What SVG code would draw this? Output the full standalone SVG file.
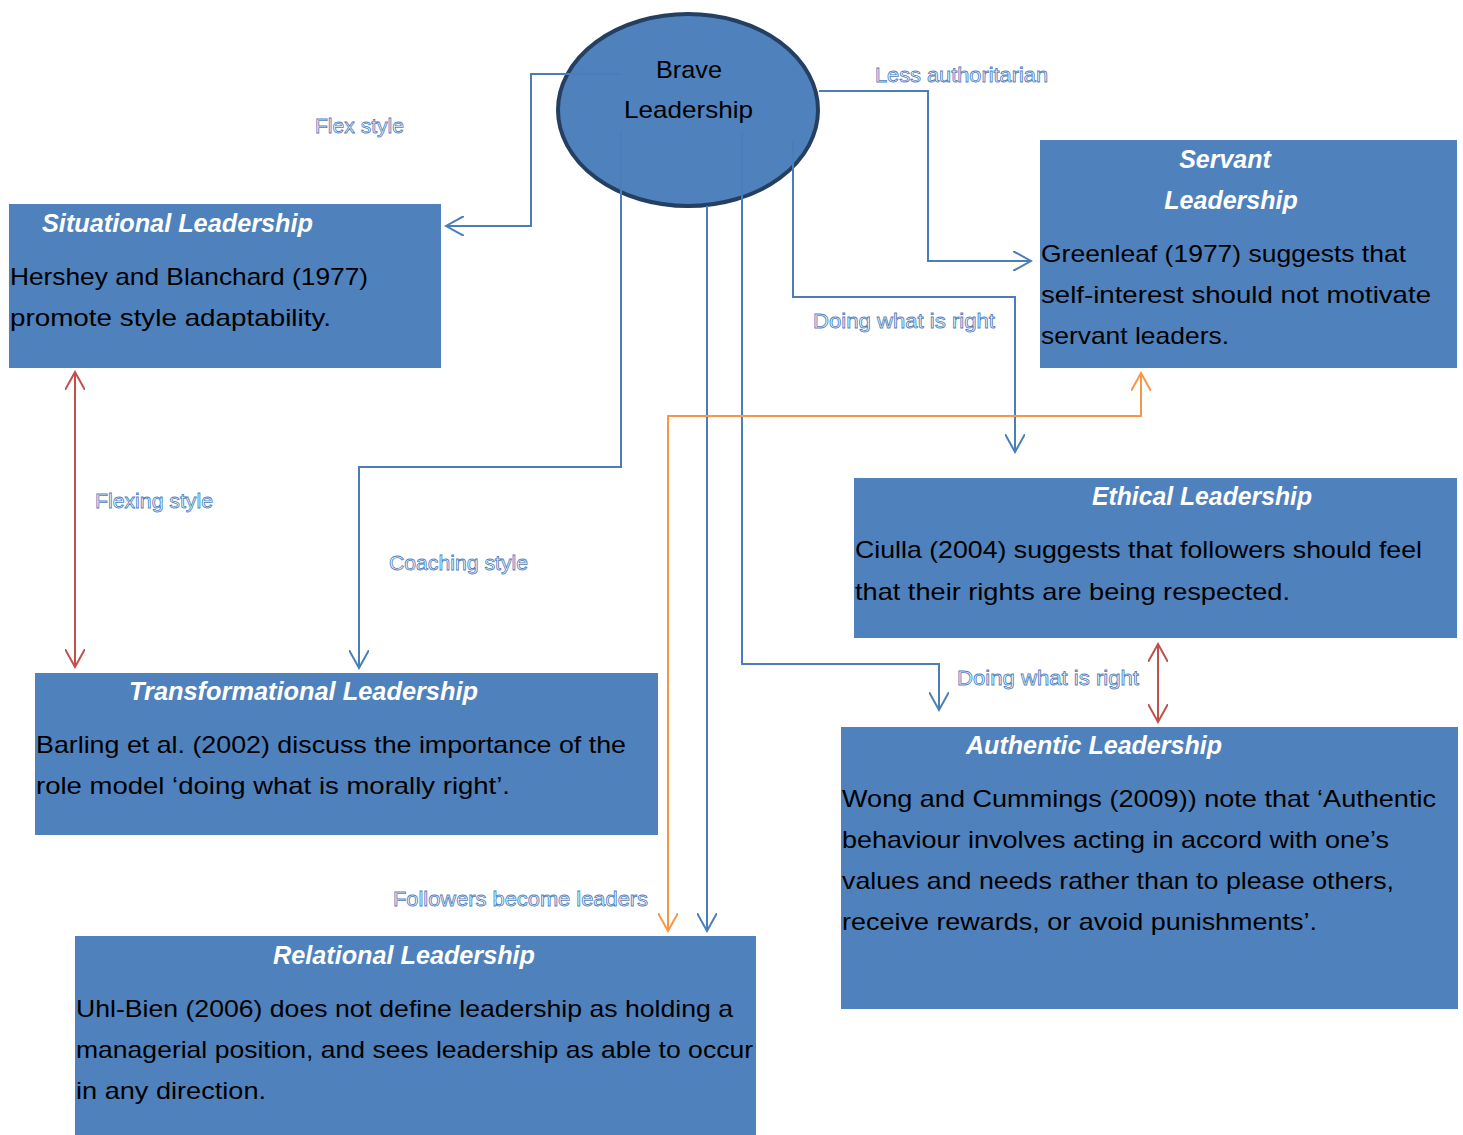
<svg xmlns="http://www.w3.org/2000/svg" width="1463" height="1135" viewBox="0 0 1463 1135">
<style>
.box{fill:#4f81bd}
.title{font-family:"Liberation Sans",Arial,sans-serif;font-size:25px;font-weight:bold;font-style:italic;fill:#fff}
.body{font-family:"Liberation Sans",Arial,sans-serif;font-size:24px;fill:#000}
.lbl{font-family:"Liberation Sans",Arial,sans-serif;font-size:20px;fill:#fff;stroke:#4f81bd;stroke-width:0.8}
.c{fill:none;stroke-width:2}
.blue{stroke:#4a7ebb}
.orange{stroke:#f79646}
.red{stroke:#c0504d}
</style>
<defs>
<marker id="ab" viewBox="0 0 20 20" refX="18" refY="10" markerWidth="20" markerHeight="20" markerUnits="userSpaceOnUse" orient="auto-start-reverse"><path d="M0,0 L18,10 L0,20" fill="none" stroke="#4a7ebb" stroke-width="2"/></marker>
<marker id="ao" viewBox="0 0 20 20" refX="18" refY="10" markerWidth="20" markerHeight="20" markerUnits="userSpaceOnUse" orient="auto-start-reverse"><path d="M0,0 L18,10 L0,20" fill="none" stroke="#f79646" stroke-width="2"/></marker>
<marker id="ar" viewBox="0 0 20 20" refX="18" refY="10" markerWidth="20" markerHeight="20" markerUnits="userSpaceOnUse" orient="auto-start-reverse"><path d="M0,0 L18,10 L0,20" fill="none" stroke="#c0504d" stroke-width="2"/></marker>
</defs>
<rect width="1463" height="1135" fill="#fff"/>
<g id="brave">
<ellipse cx="688" cy="110" rx="130" ry="96" fill="#4f81bd" stroke="#243f60" stroke-width="4"/>
<text class="body" x="656" y="78" font-size="25" textLength="66" lengthAdjust="spacingAndGlyphs">Brave</text>
<text class="body" x="624" y="118" font-size="25" textLength="129" lengthAdjust="spacingAndGlyphs">Leadership</text>
</g>
<g id="situational">
<rect class="box" x="9" y="204" width="432" height="164"/>
<text class="title" x="42" y="232" textLength="271" lengthAdjust="spacingAndGlyphs">Situational Leadership</text>
<text class="body" x="10" y="285" textLength="358" lengthAdjust="spacingAndGlyphs">Hershey and Blanchard (1977)</text>
<text class="body" x="10" y="326" textLength="321" lengthAdjust="spacingAndGlyphs">promote style adaptability.</text>
</g>
<g id="servant">
<rect class="box" x="1040" y="140" width="417" height="228"/>
<text class="title" x="1225" y="168" text-anchor="middle">Servant</text>
<text class="title" x="1231" y="209" text-anchor="middle">Leadership</text>
<text class="body" x="1041" y="262" textLength="365" lengthAdjust="spacingAndGlyphs">Greenleaf (1977) suggests that</text>
<text class="body" x="1041" y="303" textLength="390" lengthAdjust="spacingAndGlyphs">self-interest should not motivate</text>
<text class="body" x="1041" y="344" textLength="188" lengthAdjust="spacingAndGlyphs">servant leaders.</text>
</g>
<g id="ethical">
<rect class="box" x="854" y="478" width="603" height="160"/>
<text class="title" x="1092" y="505" textLength="220" lengthAdjust="spacingAndGlyphs">Ethical Leadership</text>
<text class="body" x="855" y="558" textLength="567" lengthAdjust="spacingAndGlyphs">Ciulla (2004) suggests that followers should feel</text>
<text class="body" x="855" y="600" textLength="435" lengthAdjust="spacingAndGlyphs">that their rights are being respected.</text>
</g>
<g id="transformational">
<rect class="box" x="35" y="673" width="623" height="162"/>
<text class="title" x="129" y="700" textLength="349" lengthAdjust="spacingAndGlyphs">Transformational Leadership</text>
<text class="body" x="36" y="753" textLength="590" lengthAdjust="spacingAndGlyphs">Barling et al. (2002) discuss the importance of the</text>
<text class="body" x="36" y="794" textLength="474" lengthAdjust="spacingAndGlyphs">role model ‘doing what is morally right’.</text>
</g>
<g id="authentic">
<rect class="box" x="841" y="727" width="617" height="282"/>
<text class="title" x="966" y="754" textLength="256" lengthAdjust="spacingAndGlyphs">Authentic Leadership</text>
<text class="body" x="842" y="807" textLength="594" lengthAdjust="spacingAndGlyphs">Wong and Cummings (2009)) note that ‘Authentic</text>
<text class="body" x="842" y="848" textLength="547" lengthAdjust="spacingAndGlyphs">behaviour involves acting in accord with one’s</text>
<text class="body" x="842" y="889" textLength="552" lengthAdjust="spacingAndGlyphs">values and needs rather than to please others,</text>
<text class="body" x="842" y="930" textLength="475" lengthAdjust="spacingAndGlyphs">receive rewards, or avoid punishments’.</text>
</g>
<g id="relational">
<rect class="box" x="75" y="936" width="681" height="199"/>
<text class="title" x="273" y="964" textLength="262" lengthAdjust="spacingAndGlyphs">Relational Leadership</text>
<text class="body" x="76" y="1017" textLength="657" lengthAdjust="spacingAndGlyphs">Uhl-Bien (2006) does not define leadership as holding a</text>
<text class="body" x="76" y="1058" textLength="677" lengthAdjust="spacingAndGlyphs">managerial position, and sees leadership as able to occur</text>
<text class="body" x="76" y="1099" textLength="190" lengthAdjust="spacingAndGlyphs">in any direction.</text>
</g>
<g id="connectors">
<path class="c blue" d="M621,74 H531 V226 H446" marker-end="url(#ab)"/>
<path class="c blue" d="M819,91 H928 V261 H1031" marker-end="url(#ab)"/>
<path class="c blue" d="M793,140 V297 H1015 V452" marker-end="url(#ab)"/>
<path class="c blue" d="M742,133 V664 H939 V710" marker-end="url(#ab)"/>
<path class="c blue" d="M707,206 V931" marker-end="url(#ab)"/>
<path class="c blue" d="M621,133 V467 H359 V668" marker-end="url(#ab)"/>
<path class="c orange" d="M1141,373 V416 H668 V931" marker-start="url(#ao)" marker-end="url(#ao)"/>
<path class="c red" d="M75,372 V667" marker-start="url(#ar)" marker-end="url(#ar)"/>
<path class="c red" d="M1158,644 V722" marker-start="url(#ar)" marker-end="url(#ar)"/>
</g>
<g id="labels">
<text class="lbl" x="875" y="82" textLength="173" lengthAdjust="spacingAndGlyphs">Less authoritarian</text>
<text class="lbl" x="315" y="133" textLength="89" lengthAdjust="spacingAndGlyphs">Flex style</text>
<text class="lbl" x="813" y="328" textLength="182" lengthAdjust="spacingAndGlyphs">Doing what is right</text>
<text class="lbl" x="95" y="508" textLength="118" lengthAdjust="spacingAndGlyphs">Flexing style</text>
<text class="lbl" x="389" y="570" textLength="139" lengthAdjust="spacingAndGlyphs">Coaching style</text>
<text class="lbl" x="957" y="685" textLength="182" lengthAdjust="spacingAndGlyphs">Doing what is right</text>
<text class="lbl" x="393" y="906" textLength="255" lengthAdjust="spacingAndGlyphs">Followers become leaders</text>
</g>
</svg>
